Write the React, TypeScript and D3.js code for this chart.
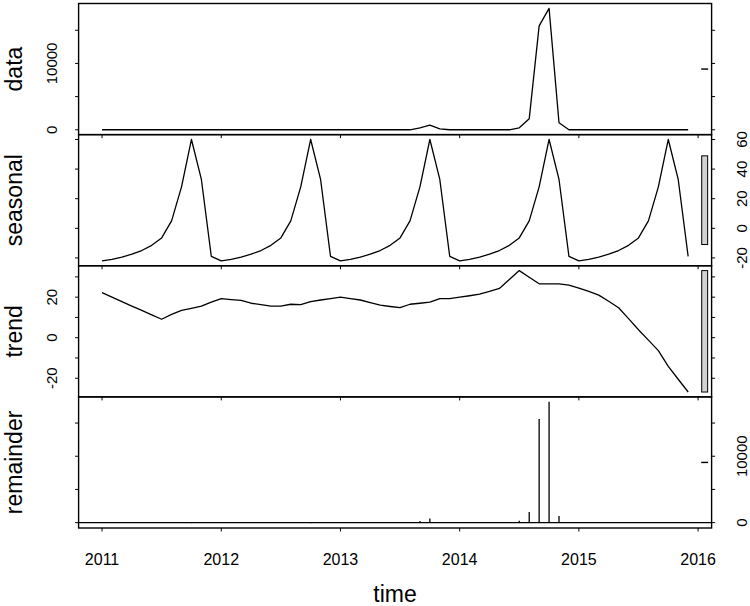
import React from "react";
import * as d3 from "d3";

// ---- Data (monthly, Jan 2011 .. Dec 2015) ----
const startYear = 2011;
const yearTicks = [2011, 2012, 2013, 2014, 2015, 2016];

const dataValues = [
  0, 0, 0, 0, 0, 0, 0, 0, 0, 0, 0, 0,
  0, 0, 0, 0, 0, 0, 0, 0, 0, 0, 0, 0,
  0, 0, 0, 0, 0, 0, 0, 0, 300, 700, 150, 0,
  0, 0, 0, 0, 0, 0, 300, 1650, 15650, 18300, 1050, 0,
  0, 0, 0, 0, 0, 0, 0, 0, 0, 0, 0, 0,
];

const seasonalValues = [
  -22, -21, -19.5, -17.5, -15, -11.5, -6.5, 5, 28, 60, 33, -19,
  -22, -21, -19.5, -17.5, -15, -11.5, -6.5, 5, 28, 60, 33, -19,
  -22, -21, -19.5, -17.5, -15, -11.5, -6.5, 5, 28, 60, 33, -19,
  -22, -21, -19.5, -17.5, -15, -11.5, -6.5, 5, 28, 60, 33, -19,
  -22, -21, -19.5, -17.5, -15, -11.5, -6.5, 5, 28, 60, 33, -19,
];

const trendValues = [
  22.2, 20.0, 17.8, 15.6, 13.5, 11.3, 9.1, 11.5, 13.5, 14.5, 15.6, 17.5,
  19.3, 18.8, 18.4, 17.0, 16.3, 15.6, 15.6, 16.5, 16.3, 17.8, 18.6, 19.3,
  20.0, 19.3, 18.6, 17.3, 16.1, 15.4, 14.8, 16.5, 17.0, 17.6, 19.3, 19.3,
  20.0, 20.7, 21.5, 22.8, 24.3, 28.7, 33.1, 29.8, 26.6, 26.6, 26.6, 25.9,
  24.5, 22.8, 21.0, 18.0, 14.8, 9.4, 3.9, -1.2, -6.4, -14.1, -20.5, -26.8,
];

const remainderValues = [
  0, 1, 2, 2, 2, 0, -3, -17, -42, -75, -49, 2,
  3, 2, 1, 1, -1, -4, -9, -22, -44, -78, -52, 0,
  2, 2, 1, 0, -1, -4, -8, -22, 255, 622, 98, 0,
  2, 0, -2, -5, -9, -17, 273, 1615, 15595, 18213, 990, -7,
  -3, -2, -2, -1, 0, 2, 3, -4, -22, -46, -13, 46,
];

const panelNames = ["data", "seasonal", "trend", "remainder"];
const dataTicks = [0, 5000, 10000, 15000];
const dataTickLabels = [0, 10000];
const seasonalTicks = [-20, 0, 20, 40, 60];
const seasonalTickLabels = [-20, 0, 20, 40, 60];
const trendTicks = [-20, -10, 0, 10, 20, 30];
const trendTickLabels = [-20, 0, 20];
const remainderTicks = [0, 5000, 10000, 15000];
const remainderTickLabels = [0, 10000];

const W = 750;
const H = 606;
const left = 78.6;
const right = 711.6;
const top = 3.5;
const bottom = 528;
const font = "'Liberation Sans', Arial, Helvetica, sans-serif";

export default function App() {
  const times = dataValues.map((_, i) => startYear + i / 12);
  const tMin = d3.min(times) as number;
  const tMax = d3.max(times) as number;
  const tPad = (tMax - tMin) * 0.04;
  const x = d3.scaleLinear().domain([tMin - tPad, tMax + tPad]).range([left, right]);
  const dx = (x.domain()[1] - x.domain()[0]) / 64;

  const series = [dataValues, seasonalValues, trendValues, remainderValues];
  const ticks = [dataTicks, seasonalTicks, trendTicks, remainderTicks];
  const tickLabels = [dataTickLabels, seasonalTickLabels, trendTickLabels, remainderTickLabels];
  const ranges = series.map((s) => [d3.min(s) as number, d3.max(s) as number]);
  const mx = d3.min(ranges, (r) => r[1] - r[0]) as number;

  const panelH = (bottom - top) / 4;

  const panels = series.map((s, pi) => {
    const y0 = top + pi * panelH;
    const y1 = y0 + panelH;
    const [mn, mxv] = ranges[pi];
    const pad = (mxv - mn) * 0.04;
    const y = d3.scaleLinear().domain([mn - pad, mxv + pad]).range([y1, y0]);
    const labelRight = pi % 2 === 1;
    const line = d3
      .line<number>()
      .x((_, i) => x(times[i]))
      .y((d) => y(d));
    const mid = (mn + mxv) / 2;
    const xr = x.domain()[1];
    return (
      <g key={pi}>
        <defs>
          <clipPath id={`clip${pi}`}>
            <rect x={left} y={y0} width={right - left} height={panelH} />
          </clipPath>
        </defs>
        {pi < 3 ? (
          <path d={line(s) || ""} fill="none" stroke="#000" strokeWidth={1.3} strokeLinejoin="round" />
        ) : (
          <g>
            <line x1={left} x2={right} y1={y(0)} y2={y(0)} stroke="#000" strokeWidth={1.3} />
            {s.map((v, i) => (
              <line key={i} x1={x(times[i])} x2={x(times[i])} y1={y(0)} y2={y(v)} stroke="#000" strokeWidth={1.3} />
            ))}
          </g>
        )}
        {/* range bar */}
        <rect
          x={x(xr - dx)}
          width={x(xr - 0.4 * dx) - x(xr - dx)}
          y={y(mid + mx / 2)}
          height={Math.max(0.01, y(mid - mx / 2) - y(mid + mx / 2))}
          fill="#d3d3d3"
          stroke="#000"
          strokeWidth={1}
        />
        {/* frame */}
        <rect x={left} y={y0} width={right - left} height={panelH} fill="none" stroke="#000" strokeWidth={1.4} />
        {/* y ticks both sides */}
        {ticks[pi].map((t) => (
          <g key={t}>
            <line x1={left - 3.5} x2={left} y1={y(t)} y2={y(t)} stroke="#000" strokeWidth={1} />
            <line x1={right} x2={right + 3.5} y1={y(t)} y2={y(t)} stroke="#000" strokeWidth={1} />
          </g>
        ))}
        {tickLabels[pi].map((t) => (
          <text
            key={t}
            transform={`translate(${labelRight ? 746.5 : 56.7},${y(t)}) rotate(-90)`}
            textAnchor="middle"
            fontFamily={font}
            fontSize={15}
            fill="#000"
          >
            {t}
          </text>
        ))}
        {/* x ticks at bottom of each panel */}
        {yearTicks.map((yr) => (
          <line key={yr} x1={x(yr)} x2={x(yr)} y1={y1} y2={y1 + 3.5} stroke="#000" strokeWidth={1} />
        ))}
        <text
          transform={`translate(22,${(y0 + y1) / 2}) rotate(-90)`}
          textAnchor="middle"
          fontFamily={font}
          fontSize={23}
          fill="#000"
        >
          {panelNames[pi]}
        </text>
      </g>
    );
  });

  return (
    <svg
      width={W}
      height={H}
      viewBox={`0 0 ${W} ${H}`}
      style={{ position: "absolute", left: 0, top: 0, background: "#fff" }}
    >
      <rect x={0} y={0} width={W} height={H} fill="#fff" />
      {panels}
      {yearTicks.map((yr) => (
        <text key={yr} x={x(yr)} y={565} textAnchor="middle" fontFamily={font} fontSize={16} fill="#000">
          {yr}
        </text>
      ))}
      <text x={(left + right) / 2} y={602} textAnchor="middle" fontFamily={font} fontSize={23} fill="#000">
        time
      </text>
    </svg>
  );
}
